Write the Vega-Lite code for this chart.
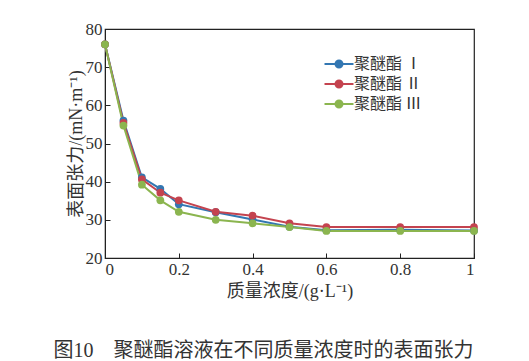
{
  "$schema": "https://vega.github.io/schema/vega-lite/v6.json",
  "autosize": "none",
  "width": 369,
  "height": 229,
  "padding": {"left": 105, "top": 29, "right": 55, "bottom": 103},
  "background": "white",
  "config": {
    "view": {"stroke": "#222", "strokeWidth": 1.2},
    "font": "Liberation Serif",
    "axis": {
      "labelFont": "Liberation Serif",
      "labelFontSize": 17,
      "labelColor": "#333",
      "titleFont": "Liberation Serif, Noto Sans CJK SC",
      "titleFontSize": 18,
      "titleFontWeight": "normal",
      "titleColor": "#333",
      "domainColor": "#222",
      "tickColor": "#222",
      "tickSize": -5,
      "grid": false
    }
  },
  "title": {
    "text": "图10\u3000聚醚酯溶液在不同质量浓度时的表面张力",
    "orient": "bottom",
    "anchor": "middle",
    "frame": "group",
    "font": "Liberation Serif, Noto Sans CJK SC",
    "fontSize": 20,
    "fontWeight": "normal",
    "color": "#333",
    "offset": 41,
    "dx": -26
  },
  "data": {
    "values": [
      {"c": 0, "s": "聚醚酯 Ⅰ", "v": 76},
      {"c": 0.05, "s": "聚醚酯 Ⅰ", "v": 56},
      {"c": 0.1, "s": "聚醚酯 Ⅰ", "v": 41.1},
      {"c": 0.15, "s": "聚醚酯 Ⅰ", "v": 38.1},
      {"c": 0.2, "s": "聚醚酯 Ⅰ", "v": 34.1},
      {"c": 0.3, "s": "聚醚酯 Ⅰ", "v": 32},
      {"c": 0.4, "s": "聚醚酯 Ⅰ", "v": 30.1},
      {"c": 0.5, "s": "聚醚酯 Ⅰ", "v": 28.2},
      {"c": 0.6, "s": "聚醚酯 Ⅰ", "v": 27.3},
      {"c": 0.8, "s": "聚醚酯 Ⅰ", "v": 27.4},
      {"c": 1, "s": "聚醚酯 Ⅰ", "v": 27.2},
      {"c": 0, "s": "聚醚酯 Ⅱ", "v": 76},
      {"c": 0.05, "s": "聚醚酯 Ⅱ", "v": 55.4},
      {"c": 0.1, "s": "聚醚酯 Ⅱ", "v": 40.6},
      {"c": 0.15, "s": "聚醚酯 Ⅱ", "v": 37.1},
      {"c": 0.2, "s": "聚醚酯 Ⅱ", "v": 35.1},
      {"c": 0.3, "s": "聚醚酯 Ⅱ", "v": 32.1},
      {"c": 0.4, "s": "聚醚酯 Ⅱ", "v": 31.1},
      {"c": 0.5, "s": "聚醚酯 Ⅱ", "v": 29.1},
      {"c": 0.6, "s": "聚醚酯 Ⅱ", "v": 28.1},
      {"c": 0.8, "s": "聚醚酯 Ⅱ", "v": 28.1},
      {"c": 1, "s": "聚醚酯 Ⅱ", "v": 28.1},
      {"c": 0, "s": "聚醚酯 Ⅲ", "v": 76},
      {"c": 0.05, "s": "聚醚酯 Ⅲ", "v": 54.7},
      {"c": 0.1, "s": "聚醚酯 Ⅲ", "v": 39.2},
      {"c": 0.15, "s": "聚醚酯 Ⅲ", "v": 35.1},
      {"c": 0.2, "s": "聚醚酯 Ⅲ", "v": 32.1},
      {"c": 0.3, "s": "聚醚酯 Ⅲ", "v": 30},
      {"c": 0.4, "s": "聚醚酯 Ⅲ", "v": 29.1},
      {"c": 0.5, "s": "聚醚酯 Ⅲ", "v": 28.1},
      {"c": 0.6, "s": "聚醚酯 Ⅲ", "v": 27.1},
      {"c": 0.8, "s": "聚醚酯 Ⅲ", "v": 27.1},
      {"c": 1, "s": "聚醚酯 Ⅲ", "v": 27.1}
    ]
  },
  "encoding": {
    "x": {
      "field": "c", "type": "quantitative",
      "scale": {"domain": [0, 1], "nice": false},
      "axis": {"values": [0, 0.2, 0.4, 0.6, 0.8, 1], "format": "~g", "title": "质量浓度/(g·L⁻¹)", "titlePadding": 5, "labelPadding": 8}
    },
    "y": {
      "field": "v", "type": "quantitative",
      "scale": {"domain": [20, 80], "nice": false, "zero": false},
      "axis": {"values": [20, 30, 40, 50, 60, 70, 80], "title": "表面张力/(mN·m⁻¹)", "titlePadding": 0, "labelPadding": 8}
    },
    "color": {
      "field": "s", "type": "nominal",
      "scale": {"domain": ["聚醚酯 Ⅰ", "聚醚酯 Ⅱ", "聚醚酯 Ⅲ"], "range": ["#3377b2", "#c4434f", "#8bb54f"]},
      "legend": {
        "title": null,
        "orient": "none",
        "legendX": 226,
        "legendY": 27,
        "symbolType": "M-2.07,0H2.07M-0.5,0A0.5,0.5,0,1,1,0.5,0A0.5,0.5,0,1,1,-0.5,0Z",
        "symbolSize": 196,
        "symbolStrokeWidth": 2,
        "labelFont": "Noto Sans CJK SC",
        "labelFontSize": 16,
        "labelColor": "#333",
        "rowPadding": 4,
        "labelOffset": 7,
        "symbolOffset": 0,
        "padding": 0,
        "encode": {"symbols": {"update": {"fill": {"scale": "color", "field": "value"}, "fillOpacity": {"value": 1}}}}
      }
    }
  },
  "mark": {"type": "line", "strokeWidth": 2, "point": {"filled": true, "size": 60, "opacity": 1}}
}
